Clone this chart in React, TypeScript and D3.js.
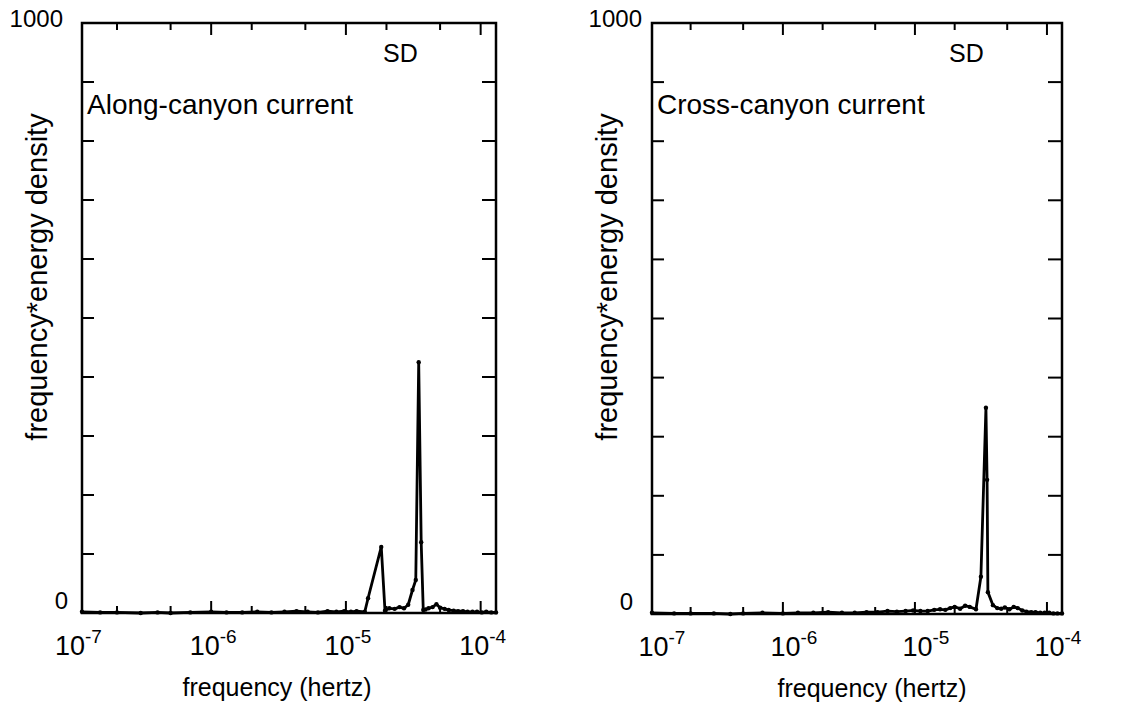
import React from "react";
import * as d3 from "d3";

// spectra (frequency in hertz, frequency*energy density)
const alongFreq = [1.1e-7, 1.5e-7, 2e-7, 3e-7, 4e-7, 5e-7, 7e-7, 1e-6, 1.3e-6, 1.7e-6, 2.2e-6, 2.8e-6, 3.5e-6, 4.3e-6, 5.2e-6, 6.2e-6, 7.3e-6, 8.5e-6, 9.7e-6, 1.09e-5, 1.2e-5, 1.38e-5, 1.46e-5, 1.83e-5, 1.95e-5, 2.1e-5, 2.3e-5, 2.5e-5, 2.7e-5, 2.9e-5, 3.12e-5, 3.3e-5, 3.47e-5, 3.62e-5, 3.75e-5, 3.9e-5, 4.1e-5, 4.4e-5, 4.7e-5, 5.0e-5, 5.4e-5, 5.8e-5, 6.3e-5, 6.8e-5, 7.4e-5, 8.0e-5, 8.7e-5, 9.4e-5, 1.02e-4, 1.1e-4, 1.2e-4, 1.3e-4];
const alongEnergy = [2, 1, 1, 0, 1, 0, 1, 2, 1, 1, 2, 1, 2, 3, 2, 1, 3, 2, 3, 2, 3, 2, 25, 112, 4, 8, 7, 10, 8, 14, 39, 56, 425, 120, 5, 6, 8, 10, 15, 9, 7, 5, 4, 3, 3, 2, 2, 2, 1, 2, 1, 1];

const crossFreq = [1.02e-7, 1.5e-7, 2e-7, 3e-7, 4e-7, 5e-7, 7e-7, 1e-6, 1.3e-6, 1.7e-6, 2.2e-6, 2.8e-6, 3.5e-6, 4.3e-6, 5.2e-6, 6.2e-6, 7.3e-6, 8.5e-6, 9.7e-6, 1.1e-5, 1.25e-5, 1.4e-5, 1.55e-5, 1.7e-5, 1.85e-5, 2.0e-5, 2.2e-5, 2.4e-5, 2.6e-5, 2.9e-5, 3.16e-5, 3.45e-5, 3.52e-5, 3.57e-5, 3.9e-5, 4.2e-5, 4.5e-5, 4.8e-5, 5.2e-5, 5.6e-5, 6.0e-5, 6.5e-5, 7.0e-5, 7.6e-5, 8.2e-5, 8.9e-5, 9.6e-5, 1.04e-4, 1.12e-4, 1.2e-4, 1.3e-4];
const crossEnergy = [2, 1, 1, 1, 0, 1, 2, 1, 2, 2, 3, 2, 2, 3, 3, 5, 4, 5, 6, 5, 5, 7, 8, 7, 10, 12, 9, 14, 12, 8, 63, 349, 227, 37, 15, 10, 9, 11, 8, 12, 10, 6, 4, 3, 3, 2, 2, 2, 1, 1, 1];

const yTicks = [100, 200, 300, 400, 500, 600, 700, 800, 900];
const xTicks = [2e-7, 5e-7, 1e-6, 2e-6, 5e-6, 1e-5, 2e-5, 5e-5, 1e-4];
const decades = [-7, -6, -5, -4];

const FONT = "'Liberation Sans', Arial, Helvetica, sans-serif";

type PanelProps = {
  x0: number; x1: number; y0: number; y1: number;
  fMin: number; fMax: number;
  freq: number[]; energy: number[];
  title: string;
  labelDx: number; titleDx: number; maxDx: number; zeroDx: number;
};

function Panel({ x0, x1, y0, y1, fMin, fMax, freq, energy, title, labelDx, titleDx, maxDx, zeroDx }: PanelProps) {
  const x = d3.scaleLog().domain([fMin, fMax]).range([x0, x1]);
  const y = d3.scaleLinear().domain([0, 1000]).range([y1, y0]);
  const pts = freq.map((f, i) => [f, energy[i]] as [number, number]);
  const line = d3.line<[number, number]>().x(d => x(d[0])).y(d => y(d[1]));
  const isDecade = (t: number) => Math.abs(Math.log10(t) - Math.round(Math.log10(t))) < 1e-6;
  const midX = (x0 + x1) / 2;

  return (
    <g>
      {/* x ticks, top and bottom, pointing inward */}
      {xTicks.map(t => {
        const len = isDecade(t) ? 12 : 7;
        return (
          <g key={t}>
            <line x1={x(t)} x2={x(t)} y1={y0} y2={y0 + len} stroke="#000" strokeWidth={2} />
            <line x1={x(t)} x2={x(t)} y1={y1} y2={y1 - len} stroke="#000" strokeWidth={2} />
          </g>
        );
      })}
      {/* y ticks on both sides */}
      {yTicks.map(t => (
        <g key={t}>
          <line x1={x0} x2={x0 + 12} y1={y(t)} y2={y(t)} stroke="#000" strokeWidth={2} />
          <line x1={x1} x2={x1 - 14} y1={y(t)} y2={y(t)} stroke="#000" strokeWidth={2} />
        </g>
      ))}
      <path d={line(pts) ?? ""} fill="none" stroke="#000" strokeWidth={2.8} strokeLinejoin="round" />
      {pts.map((p, i) => (
        <circle key={i} cx={x(p[0])} cy={y(p[1])} r={2.2} fill="#000" />
      ))}
      <rect x={x0} y={y0} width={x1 - x0} height={y1 - y0} fill="none" stroke="#000" strokeWidth={2.5} />

      <text x={x0 - maxDx} y={y(1000) + 4} textAnchor="end" fontSize={24} fontFamily={FONT}>1000</text>
      <text x={x0 - zeroDx} y={y(0) - 4} textAnchor="end" fontSize={24} fontFamily={FONT}>0</text>

      {decades.map(d => (
        <text key={d} x={x(Math.pow(10, d)) + labelDx} y={y1 + 42} textAnchor="middle" fontFamily={FONT} fontSize={27}>
          10<tspan fontSize={19} dy={-12}>{"-" + Math.abs(d)}</tspan>
        </text>
      ))}

      <text x={midX + titleDx} y={y1 + 83} textAnchor="middle" fontSize={25} fontFamily={FONT}>frequency (hertz)</text>
      <text transform={`translate(${x0 - 35},277) rotate(-90)`} textAnchor="middle" fontSize={29} fontFamily={FONT}>
        frequency*energy density
      </text>
      <text x={x1 - 113} y={62} fontSize={25} fontFamily={FONT}>SD</text>
      <text x={x0 + 5} y={114} fontSize={28} fontFamily={FONT}>{title}</text>
    </g>
  );
}

export default function App() {
  return (
    <svg width={1145} height={711} style={{ position: "absolute", left: 0, top: 0, background: "#fff" }}>
      <rect width={1145} height={711} fill="#fff" />
      <Panel x0={82} x1={496} y0={23} y1={613} fMin={1.1e-7} fMax={1.3e-4}
        freq={alongFreq} energy={alongEnergy} title="Along-canyon current"
        labelDx={2} titleDx={-12} maxDx={19} zeroDx={14} />
      <Panel x0={652} x1={1062} y0={23} y1={614} fMin={1.02e-7} fMax={1.3e-4}
        freq={crossFreq} energy={crossEnergy} title="Cross-canyon current"
        labelDx={11} titleDx={15} maxDx={10} zeroDx={19} />
    </svg>
  );
}
